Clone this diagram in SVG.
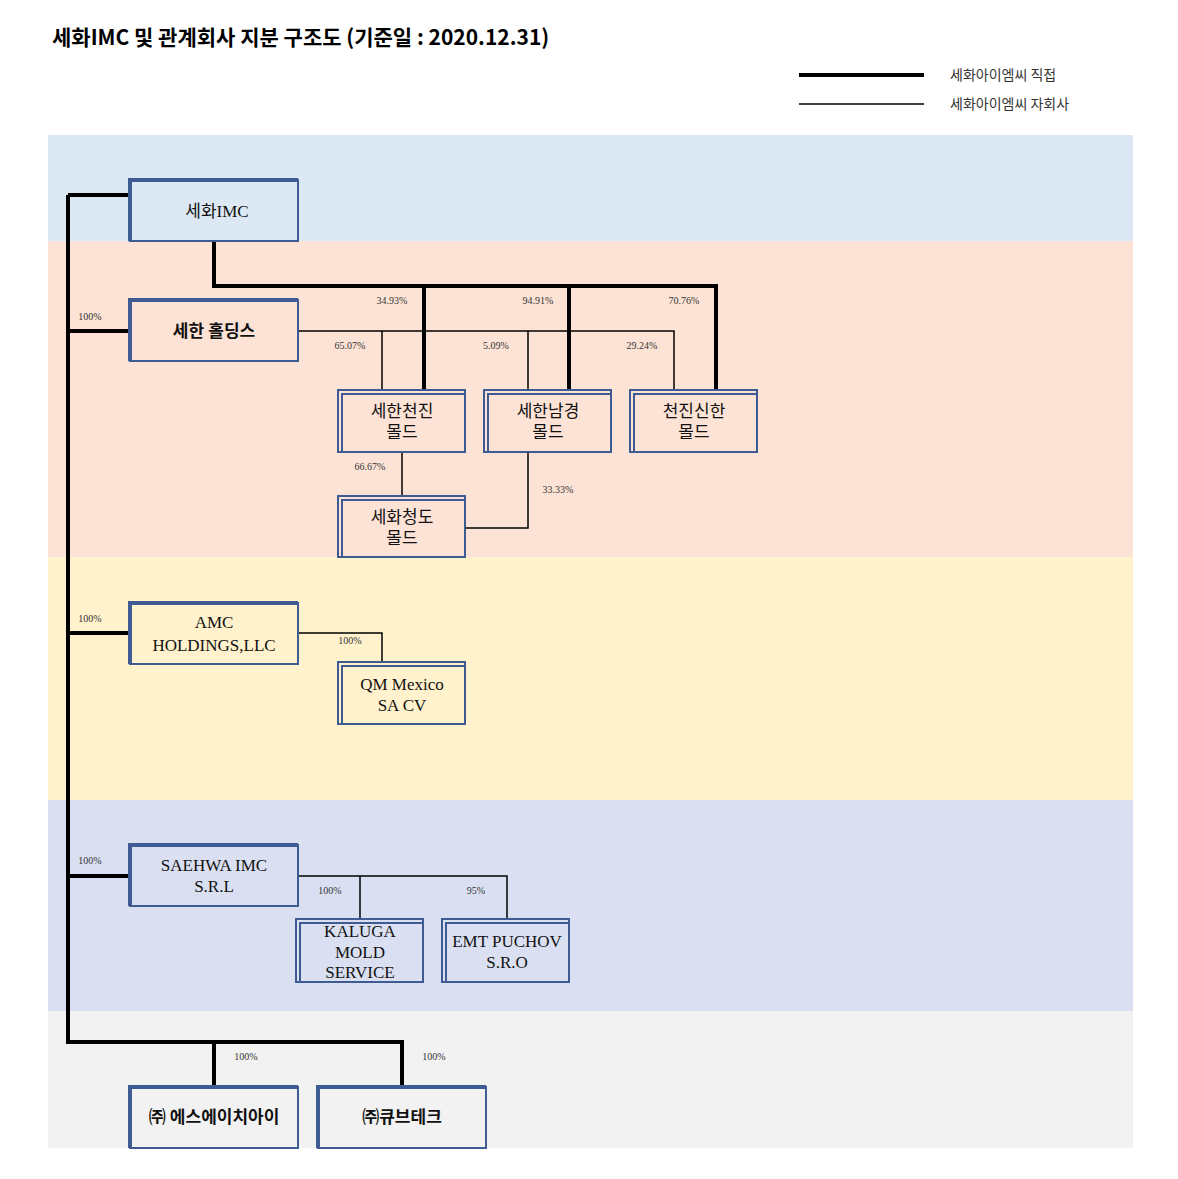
<svg xmlns="http://www.w3.org/2000/svg" width="1178" height="1179" viewBox="0 0 1178 1179">
<style>
.t{font-family:"Liberation Serif","Noto Sans CJK KR",serif;fill:#111;text-anchor:middle}
.n{font-size:17px}
.b{font-size:17px;font-weight:bold}
.p{font-family:"Liberation Serif",serif;font-size:10px;fill:#333;text-anchor:middle}
.box{stroke:#3f5b94;stroke-width:2;fill:none}
.edge{stroke:#3f5b94;stroke-width:4;fill:none}
.thick{stroke:#000;stroke-width:4;fill:none}
.thin{stroke:#000;stroke-width:1.5;fill:none}
</style>
<rect width="1178" height="1179" fill="#fff"/>
<text x="52" y="45" style="font-family:'Noto Sans CJK KR',sans-serif;font-size:21px;font-weight:bold" fill="#000">세화IMC 및 관계회사 지분 구조도 (기준일 : 2020.12.31)</text>
<g id="legend">
<line x1="799" y1="75" x2="924" y2="75" class="thick"/>
<line x1="799" y1="104" x2="924" y2="104" class="thin"/>
<text x="950" y="80" style="font-family:'Noto Sans CJK KR',serif;font-size:14px" fill="#333">세화아이엠씨 직접</text>
<text x="950" y="109" style="font-family:'Noto Sans CJK KR',serif;font-size:14px" fill="#333">세화아이엠씨 자회사</text>
</g>
<g id="bands">
<rect x="48" y="135" width="1085" height="106" fill="#dce9f5"/>
<rect x="48" y="241" width="1085" height="316" fill="#fde3d6"/>
<rect x="48" y="557" width="1085" height="243" fill="#fff2cc"/>
<rect x="48" y="800" width="1085" height="211" fill="#dae0f2"/>
<rect x="48" y="1011" width="1085" height="137" fill="#f2f2f2"/>
</g>
<g id="connectors">
<path d="M68 195V1042H402V1087M214 1042V1087M68 195H130M68 331H130M68 633H130M68 876H130" class="thick"/>
<path d="M214 241V286H716V390M424 286V390M569 286V390" class="thick"/>
<path d="M298 331H674V390M382 331V390M528 331V390M402 452V496M528 452V528H465M298 633H382V662M298 876H507V919M360 876V919" class="thin"/>
</g>
<g id="labels">
<text x="90" y="320" class="p">100%</text><text x="90" y="622" class="p">100%</text><text x="90" y="864" class="p">100%</text>
<text x="392" y="304" class="p">34.93%</text><text x="538" y="304" class="p">94.91%</text><text x="684" y="304" class="p">70.76%</text>
<text x="350" y="349" class="p">65.07%</text><text x="496" y="349" class="p">5.09%</text><text x="642" y="349" class="p">29.24%</text>
<text x="370" y="470" class="p">66.67%</text><text x="558" y="493" class="p">33.33%</text>
<text x="350" y="644" class="p">100%</text><text x="330" y="894" class="p">100%</text><text x="476" y="894" class="p">95%</text>
<text x="246" y="1060" class="p">100%</text><text x="434" y="1060" class="p">100%</text>
</g>
<g id="n-imc"><rect x="130" y="180" width="168" height="61" class="box"/><path d="M130 241V180H298" class="edge"/><text x="217" y="217" class="t n">세화IMC</text></g>
<g id="n-holdings"><rect x="130" y="300" width="168" height="61" class="box"/><path d="M130 361V300H298" class="edge"/><text x="214" y="337" class="t b">세한 홀딩스</text></g>
<g id="n-tianjin"><rect x="338" y="390" width="127" height="62" class="box"/><rect x="342" y="394" width="123" height="58" class="box" stroke-width="1"/><text x="402" y="417" class="t n">세한천진</text><text x="402" y="438" class="t n">몰드</text></g>
<g id="n-nanjing"><rect x="484" y="390" width="127" height="62" class="box"/><rect x="488" y="394" width="123" height="58" class="box" stroke-width="1"/><text x="548" y="417" class="t n">세한남경</text><text x="548" y="438" class="t n">몰드</text></g>
<g id="n-tjsh"><rect x="630" y="390" width="127" height="62" class="box"/><rect x="634" y="394" width="123" height="58" class="box" stroke-width="1"/><text x="694" y="417" class="t n">천진신한</text><text x="694" y="438" class="t n">몰드</text></g>
<g id="n-qingdao"><rect x="338" y="496" width="127" height="61" class="box"/><rect x="342" y="500" width="123" height="57" class="box" stroke-width="1"/><text x="402" y="523" class="t n">세화청도</text><text x="402" y="544" class="t n">몰드</text></g>
<g id="n-amc"><rect x="130" y="603" width="168" height="61" class="box"/><path d="M130 664V603H298" class="edge"/><text x="214" y="628" class="t n">AMC</text><text x="214" y="651" class="t n">HOLDINGS,LLC</text></g>
<g id="n-qm"><rect x="338" y="662" width="127" height="62" class="box"/><rect x="342" y="666" width="123" height="58" class="box" stroke-width="1"/><text x="402" y="690" class="t n">QM Mexico</text><text x="402" y="711" class="t n">SA CV</text></g>
<g id="n-srl"><rect x="130" y="845" width="168" height="61" class="box"/><path d="M130 906V845H298" class="edge"/><text x="214" y="871" class="t n">SAEHWA IMC</text><text x="214" y="892" class="t n">S.R.L</text></g>
<g id="n-kaluga"><rect x="296" y="919" width="127" height="63" class="box"/><rect x="300" y="923" width="123" height="59" class="box" stroke-width="1"/><text x="360" y="937" class="t n">KALUGA</text><text x="360" y="958" class="t n">MOLD</text><text x="360" y="978" class="t n">SERVICE</text></g>
<g id="n-emt"><rect x="442" y="919" width="127" height="63" class="box"/><rect x="446" y="923" width="123" height="59" class="box" stroke-width="1"/><text x="507" y="947" class="t n">EMT PUCHOV</text><text x="507" y="968" class="t n">S.R.O</text></g>
<g id="n-sai"><rect x="130" y="1087" width="168" height="61" class="box"/><path d="M130 1148V1087H298" class="edge"/><text x="214" y="1123" class="t b">㈜ 에스에이치아이</text></g>
<g id="n-cube"><rect x="318" y="1087" width="168" height="61" class="box"/><path d="M318 1148V1087H486" class="edge"/><text x="402" y="1123" class="t b">㈜큐브테크</text></g>
</svg>
